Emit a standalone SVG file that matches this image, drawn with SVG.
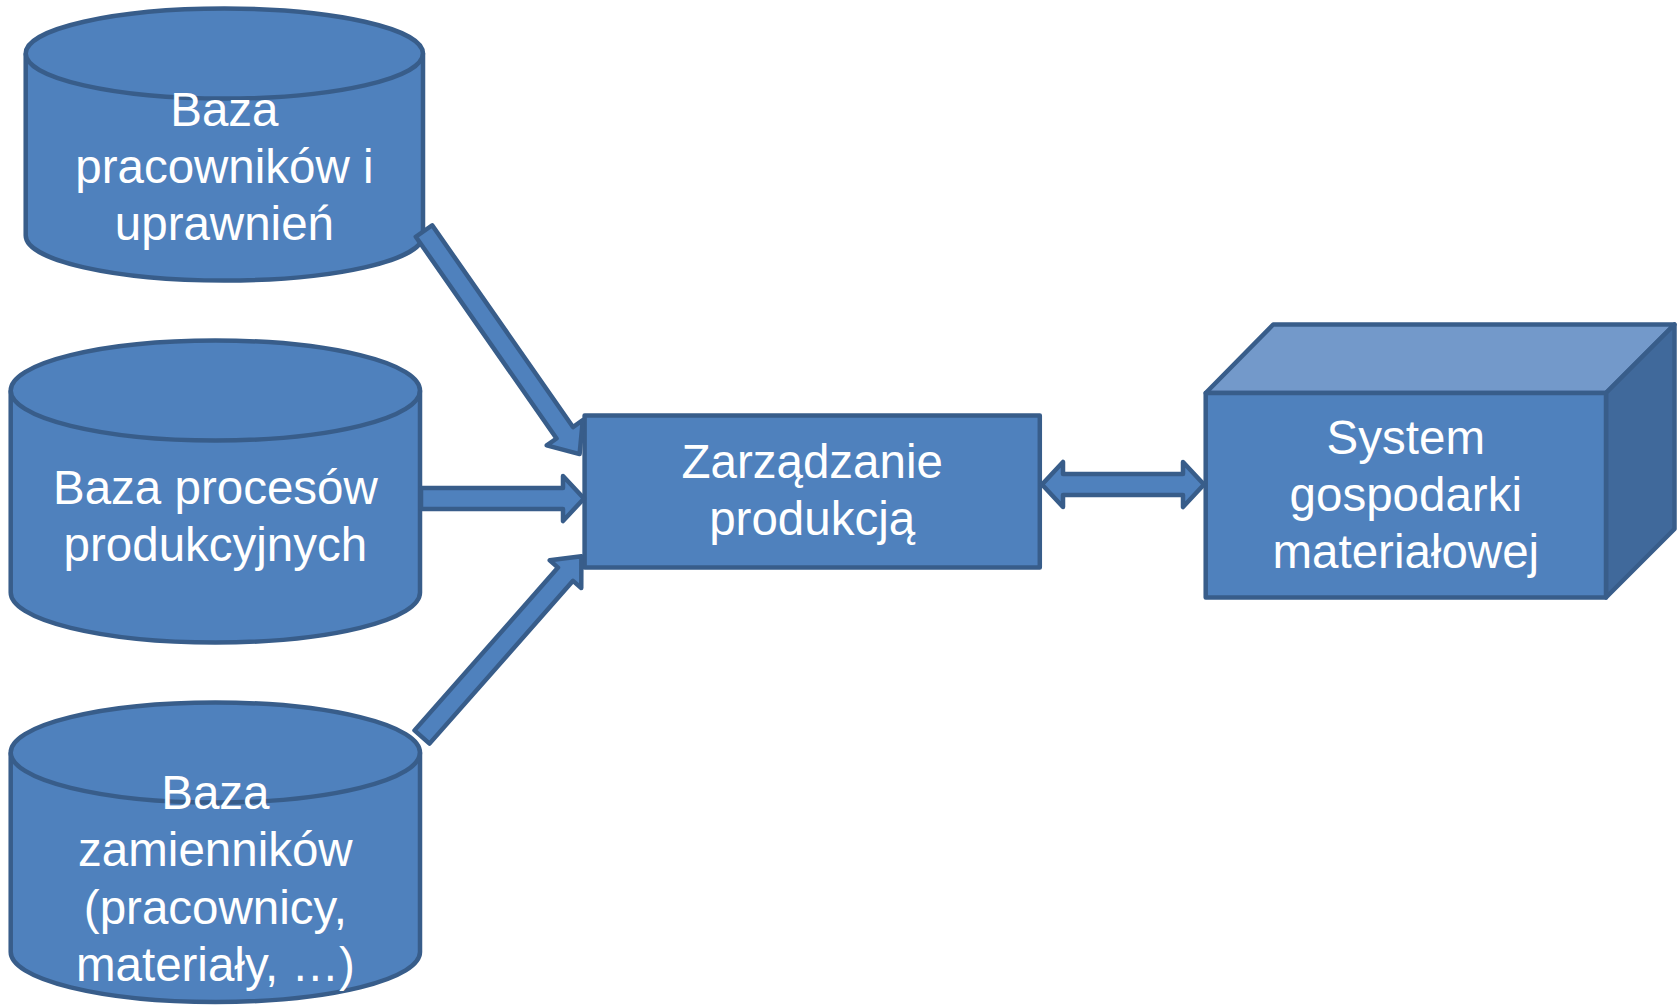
<svg xmlns="http://www.w3.org/2000/svg" width="1679" height="1005" viewBox="0 0 1679 1005">
<style>
.sh{fill:#4F81BD;stroke:#385D8A;stroke-width:4.5;stroke-linejoin:round}
.ln{fill:none;stroke:#385D8A;stroke-width:4.5}
.top{fill:#7399CA;stroke:#385D8A;stroke-width:4.5;stroke-linejoin:round}
.side{fill:#40699B;stroke:#385D8A;stroke-width:4.5;stroke-linejoin:round}
.t{font-family:"Liberation Sans",Arial,sans-serif;font-size:47.5px;fill:#FFFFFF;text-anchor:middle}
</style>
<rect width="1679" height="1005" fill="#FFFFFF"/>
<g id="baza-pracownikow">
<path class="sh" d="M25.7,53.6 A198.6,45 0 0 1 423,53.6 L423,235.5 A198.6,45 0 0 1 25.7,235.5 Z"/>
<path class="ln" d="M25.7,53.6 A198.6,45 0 0 0 423,53.6"/>
<text class="t" x="224.4" y="126">Baza</text>
<text class="t" x="224.4" y="183">pracowników i</text>
<text class="t" x="224.4" y="240">uprawnień</text>
</g>
<g id="baza-procesow">
<path class="sh" d="M10.7,390.5 A204.6,50 0 0 1 420,390.5 L420,592.5 A204.6,50 0 0 1 10.7,592.5 Z"/>
<path class="ln" d="M10.7,390.5 A204.6,50 0 0 0 420,390.5"/>
<text class="t" x="215.4" y="504">Baza procesów</text>
<text class="t" x="215.4" y="561">produkcyjnych</text>
</g>
<g id="baza-zamiennikow">
<path class="sh" d="M10.7,752.5 A204.6,50 0 0 1 420,752.5 L420,952 A204.6,50 0 0 1 10.7,952 Z"/>
<path class="ln" d="M10.7,752.5 A204.6,50 0 0 0 420,752.5"/>
<text class="t" x="215.4" y="809">Baza</text>
<text class="t" x="215.4" y="866">zamienników</text>
<text class="t" x="215.4" y="923.5">(pracownicy,</text>
<text class="t" x="215.4" y="981">materiały, …)</text>
</g>
<g id="zarzadzanie">
<rect class="sh" x="584.6" y="415.5" width="455.2" height="152"/>
<text class="t" x="812.2" y="478">Zarządzanie</text>
<text class="t" x="812.2" y="535">produkcją</text>
</g>
<g id="system">
<polygon class="top" points="1205.7,393 1273.2,324.5 1674.5,324.5 1606,393"/>
<polygon class="side" points="1606,393 1674.5,324.5 1674.5,529 1606,597.5"/>
<rect class="sh" x="1205.7" y="393" width="400.3" height="204.5"/>
<text class="t" x="1405.8" y="454">System</text>
<text class="t" x="1405.8" y="511">gospodarki</text>
<text class="t" x="1405.8" y="568">materiałowej</text>
</g>
<g id="connectors">
<polygon class="sh" transform="translate(424,231) rotate(55.1)" points="0,-10 246,-10 246,-22 272,0 246,22 246,10 0,10"/>
<polygon class="sh" points="421,488 563,488 563,476 584,498.5 563,521 563,509 421,509"/>
<polygon class="sh" transform="translate(422,737) rotate(-48.6)" points="0,-10 217,-10 217,-21 241,0 217,21 217,10 0,10"/>
<polygon class="sh" points="1042,484.5 1063,462 1063,474 1183,474 1183,462 1204,484.5 1183,507 1183,495 1063,495 1063,507"/>
</g>
</svg>
